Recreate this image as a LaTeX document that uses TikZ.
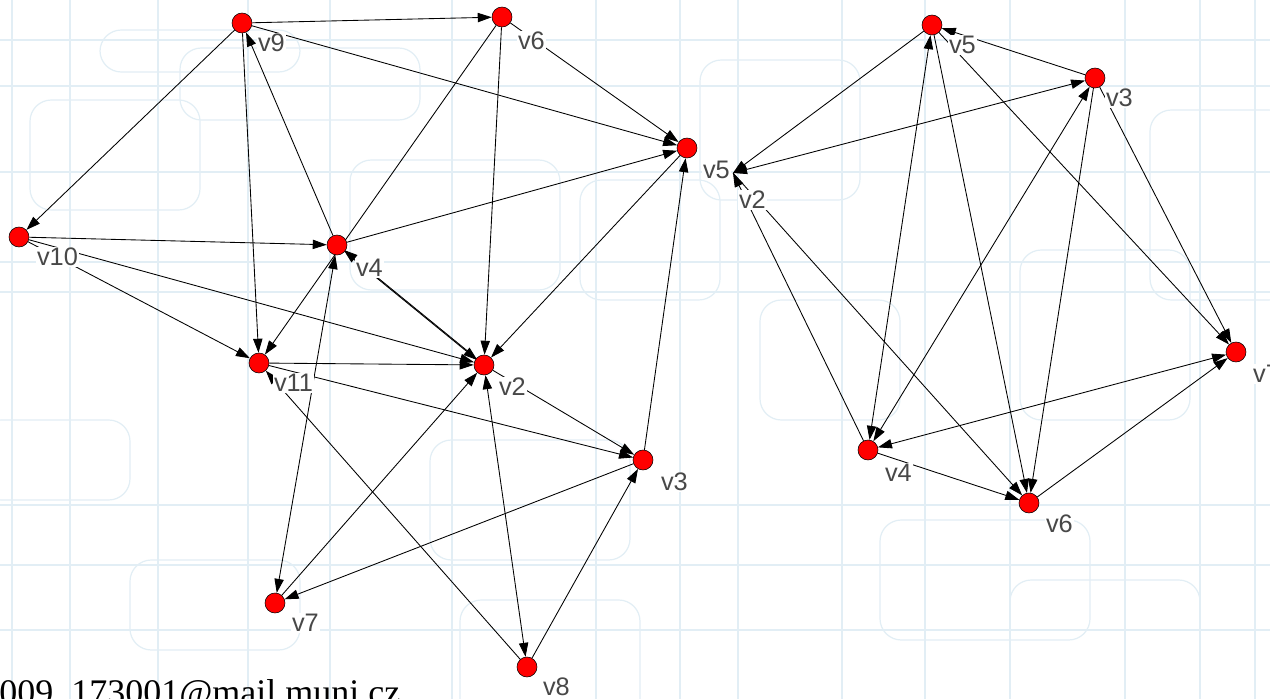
\documentclass[tikz,border=0pt]{standalone}
\usepackage{fontspec}
\setmainfont{Liberation Serif}
\setsansfont{Liberation Sans}
\usepackage{xcolor}
\usetikzlibrary{arrows.meta,backgrounds}

\definecolor{vred}{RGB}{255,0,0}
\definecolor{gridblue}{RGB}{226,238,245}
\definecolor{lblgray}{RGB}{72,72,72}

\tikzset{
  vtx/.style={circle, draw=black, line width=0.4pt, fill=vred, minimum size=15pt, inner sep=0pt},
  lbl/.style={anchor=west, font=\sffamily\fontsize{19}{20}\selectfont, text=lblgray, fill=white, inner sep=0.6pt},
  fwd/.style={-{Triangle[length=10.5pt,width=7pt]}, line width=0.65pt},
  twoway/.style={{Triangle[length=10.5pt,width=7pt]}-{Triangle[length=10.5pt,width=7pt]}, line width=0.65pt},
  gridline/.style={draw=gridblue, line width=0.9pt}
}

\begin{document}
\begin{tikzpicture}[x=0.75pt,y=0.75pt,yscale=-1,xscale=1]
\useasboundingbox (0,0) rectangle (1270,699);
\clip (0,0) rectangle (1270,699);

%Shape: Circle, left graph
\node[vtx] (v9) at (242,23) {};
\node[vtx] (v6) at (502,17) {};
\node[vtx] (v5) at (687,148) {};
\node[vtx] (v10) at (19,237) {};
\node[vtx] (v4) at (337,245) {};
\node[vtx] (v11) at (259,363) {};
\node[vtx] (v2) at (484,365) {};
\node[vtx] (v3) at (643,460) {};
\node[vtx] (v7) at (275,603) {};
\node[vtx] (v8) at (527,667) {};
%Shape: Circle, right graph
\node[vtx] (r5) at (932,25) {};
\node[vtx] (r3) at (1095,78) {};
\coordinate (r2) at (733,173);
\node[vtx] (r7) at (1236,352) {};
\node[vtx] (r4) at (868,450) {};
\node[vtx] (r6) at (1029,503) {};

\begin{pgfonlayer}{background}
\fill[white] (0,0) rectangle (1270,699);
%Shape: Grid
\foreach \gx in {12,70,158,248,330,452,596,680,738,842,925,1010,1125,1200,1255}
  \draw[gridline] (\gx,0) -- (\gx,699);
\foreach \gy in {40,86,172,262,292,505,565,630}
  \draw[gridline] (0,\gy) -- (1270,\gy);
\foreach \ax/\ay/\bx/\by in {100/30/300/72, 180/48/420/120, 700/60/860/200, 350/160/560/290, 580/180/720/300, 1020/250/1190/420, 1150/110/1290/300, 1010/580/1200/720, 880/520/1090/640, 430/440/630/560, 130/560/300/650, -20/420/130/500, 460/600/640/720, 760/300/900/420, 30/100/200/210}
  \draw[gridline, rounded corners=16pt] (\ax,\ay) rectangle (\bx,\by);

%Straight Lines, left graph
\draw[fwd] (v9) -- (v6);
\draw[fwd] (v9) -- (v10);
\draw[fwd] (v9) -- (v5);
\draw[fwd] (v9) -- (v11);
\draw[fwd] (v4) -- (v9);
\draw[fwd] (v6) -- (v5);
\draw[fwd] (v6) -- (v2);
\draw[fwd] (v6) -- (v11);
\draw[fwd] (v10) -- (v4);
\draw[fwd] (v10) -- (v2);
\draw[fwd] (v10) -- (v11);
\draw[fwd] (v11) -- (v2);
\draw[fwd] (v11) -- (v3);
\draw[fwd] (v8) -- (v11);
\draw[fwd] (v4) -- (v5);
\draw[fwd, transform canvas={shift={(1.3,-1.6)}}] (v4) -- (v2);
\draw[fwd, transform canvas={shift={(-1.3,1.6)}}] (v2) -- (v4);
\draw[fwd] (v5) -- (v2);
\draw[fwd] (v3) -- (v5);
\draw[fwd] (v2) -- (v3);
\draw[fwd] (v3) -- (v7);
\draw[fwd] (v7) -- (v2);
\draw[twoway] (v8) -- (v2);
\draw[fwd] (v8) -- (v3);
\draw[twoway] (v4) -- (v7);

%Straight Lines, right graph
\draw[fwd] (r5) -- (r2);
\draw[twoway] (r2) -- (r3);
\draw[fwd] (r3) -- (r5);
\draw[fwd] (r5) -- (r7);
\draw[fwd] (r3) -- (r7);
\draw[twoway] (r5) -- (r4);
\draw[fwd] (r5) -- (r6);
\draw[twoway] (r4) -- (r3);
\draw[fwd] (r3) -- (r6);
\draw[fwd] (r4) -- (r2);
\draw[fwd] (r2) -- (r6);
\draw[fwd] (r4) -- (r6);
\draw[fwd] (r6) -- (r7);
\draw[twoway] (r4) -- (r7);
\end{pgfonlayer}

% Text Node
\node[lbl] (v9l) at (257,43) {v9};
\node[lbl] (v6l) at (517,41) {v6};
\node[lbl] (v5l) at (702,170) {v5};
\node[lbl] (v10l) at (36,257) {v10};
\node[lbl] (v4l) at (355,268) {v4};
\node[lbl] (v11l) at (273,383) {v11};
\node[lbl] (v2l) at (498,387) {v2};
\node[lbl] (v3l) at (660,482) {v3};
\node[lbl] (v7l) at (291,623) {v7};
\node[lbl] (v8l) at (542,687) {v8};
% Text Node
\node[lbl] (r5l) at (948,45) {v5};
\node[lbl] (r3l) at (1105,98) {v3};
\node[lbl] (r2l) at (738,200) {v2};
\node[lbl] (r7l) at (1252,374) {v7};
\node[lbl] (r4l) at (884,473) {v4};
\node[lbl] (r6l) at (1045,524) {v6};
% Text Node
\node[anchor=base west, inner sep=0pt, font=\fontsize{27}{30}\selectfont] (mail) at (-1,704) {009\_173001@mail.muni.cz};

\end{tikzpicture}
\end{document}
